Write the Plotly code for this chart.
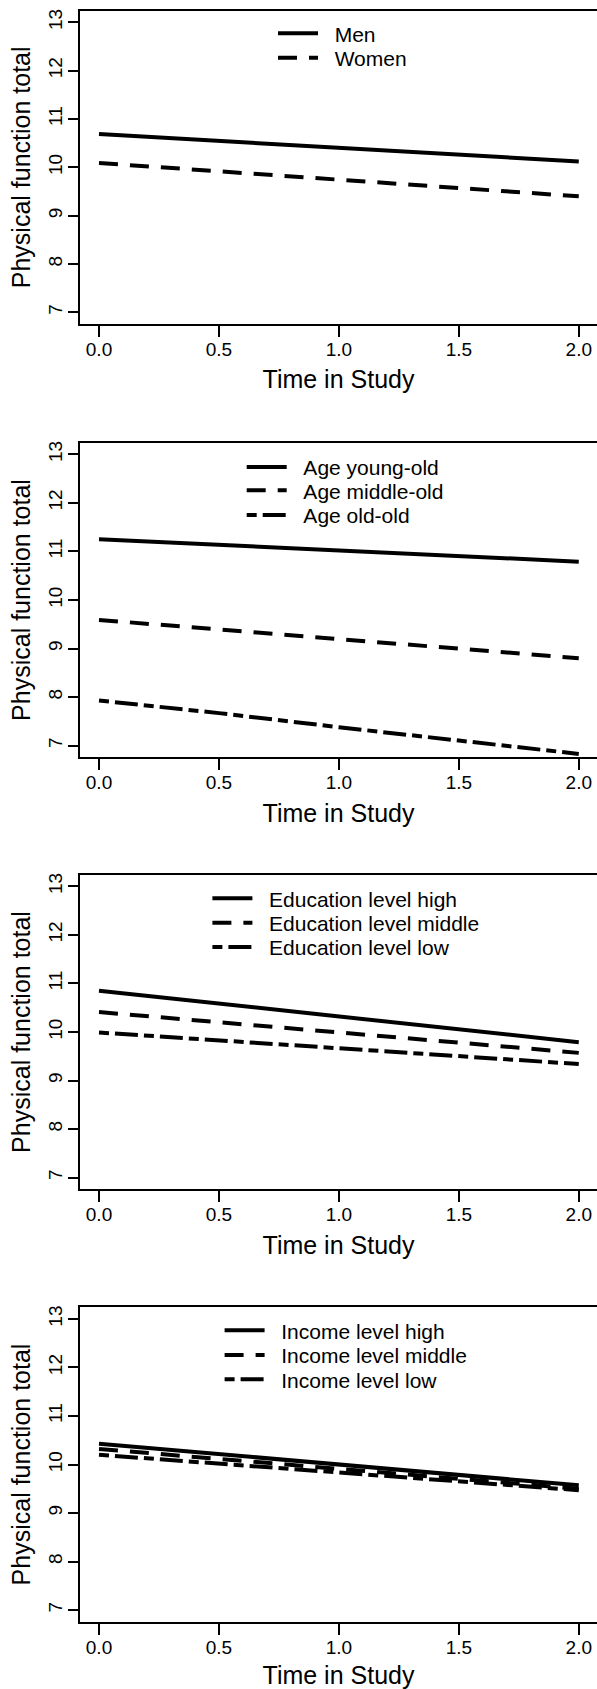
import plotly.graph_objects as go

# ---------------- data ----------------
time = [0.0, 0.5, 1.0, 1.5, 2.0]

men = [10.69, 10.55, 10.41, 10.27, 10.12]
women = [10.09, 9.92, 9.74, 9.57, 9.40]

age_young_old = [11.25, 11.14, 11.02, 10.91, 10.79]
age_middle_old = [9.59, 9.39, 9.20, 9.00, 8.80]
age_old_old = [7.93, 7.67, 7.38, 7.11, 6.83]

edu_high = [10.85, 10.58, 10.32, 10.05, 9.79]
edu_middle = [10.41, 10.20, 9.99, 9.78, 9.57]
edu_low = [9.99, 9.83, 9.67, 9.50, 9.34]

inc_high = [10.43, 10.22, 10.00, 9.79, 9.57]
inc_middle = [10.32, 10.12, 9.91, 9.71, 9.50]
inc_low = [10.20, 10.02, 9.83, 9.65, 9.47]

x_ticks = [0.0, 0.5, 1.0, 1.5, 2.0]
y_ticks = [7, 8, 9, 10, 11, 12, 13]
x_title = "Time in Study"
y_title = "Physical function total"

# ---------------- layout helpers ----------------
W, H = 597, 1689
FONT = "Liberation Sans, Arial, sans-serif"

SOLID = "solid"
DASHED = "19px,12px"
DOTDASH = "10px,6px,23px,6px"

panels = [
    # (plot top px, plot bottom px, legend key-left px, [(name, values, dash, row center px)])
    (10.7, 324.0, 278.0, [("Men", men, SOLID, 35.7), ("Women", women, DASHED, 60.0)]),
    (442.7, 757.3, 246.7, [("Age young-old", age_young_old, SOLID, 469.3),
                           ("Age middle-old", age_middle_old, DASHED, 492.7),
                           ("Age old-old", age_old_old, DOTDASH, 517.3)]),
    (874.7, 1189.3, 212.4, [("Education level high", edu_high, SOLID, 900.7),
                            ("Education level middle", edu_middle, DASHED, 925.0),
                            ("Education level low", edu_low, DOTDASH, 949.3)]),
    (1307.3, 1621.7, 224.6, [("Income level high", inc_high, SOLID, 1332.7),
                             ("Income level middle", inc_middle, DASHED, 1357.3),
                             ("Income level low", inc_low, DOTDASH, 1381.7)]),
]

fig = go.Figure()
layout = dict(
    width=W, height=H,
    margin=dict(l=0, r=0, t=0, b=0),
    paper_bgcolor="white", plot_bgcolor="white",
    font=dict(family=FONT, color="black", size=19),
    showlegend=True,
)

ITEMW = 40
NB = "\u00a0\u00a0"
leg_i = 0
for p, (top, bot, key_left, series) in enumerate(panels):
    k = "" if p == 0 else str(p + 1)
    layout["xaxis" + k] = dict(
        domain=[80 / W, 1.0],
        range=[-0.0792, 2.076],
        anchor="y" + k,
        tickvals=x_ticks, tickformat=".1f",
        ticks="outside", ticklen=11, tickwidth=2, tickcolor="black",
        ticklabelstandoff=-4,
        showline=True, linecolor="black", linewidth=2, mirror=True,
        showgrid=False, zeroline=False,
        tickfont=dict(size=19, family=FONT, color="black"),
        title=dict(text=x_title, font=dict(size=25, family=FONT, color="black"), standoff=12),
        automargin=False,
    )
    layout["yaxis" + k] = dict(
        domain=[1 - bot / H, 1 - top / H],
        range=[6.76, 13.24],
        anchor="x" + k,
        tickvals=y_ticks, tickangle=-90,
        ticks="outside", ticklen=10, tickwidth=2, tickcolor="black",
        ticklabelstandoff=-2,
        showline=True, linecolor="black", linewidth=2, mirror=False,
        showgrid=False, zeroline=False,
        tickfont=dict(size=19, family=FONT, color="black"),
        title=dict(text=y_title, font=dict(size=25, family=FONT, color="black"), standoff=8),
        automargin=False,
    )
    for name, vals, dash, row_c in series:
        leg_i += 1
        lk = "legend" if leg_i == 1 else "legend%d" % leg_i
        fig.add_trace(go.Scatter(
            x=time, y=vals, mode="lines", name=NB + name,
            line=dict(color="black", width=4, dash=dash),
            xaxis="x" + k, yaxis="y" + k, legend=lk, hoverinfo="skip",
        ))
        layout[lk] = dict(
            x=(key_left - 5) / W,
            y=1 - (row_c - 22.5) / H,
            xanchor="left", yanchor="top",
            bgcolor="rgba(0,0,0,0)", borderwidth=0,
            itemwidth=ITEMW,
            font=dict(size=21, family=FONT, color="black"),
        )

fig.update_layout(**layout)
fig.write_html(
    "out.html",
    config={"displayModeBar": False},
    post_script="document.body.style.margin='0px';document.body.style.overflow='hidden';",
)
